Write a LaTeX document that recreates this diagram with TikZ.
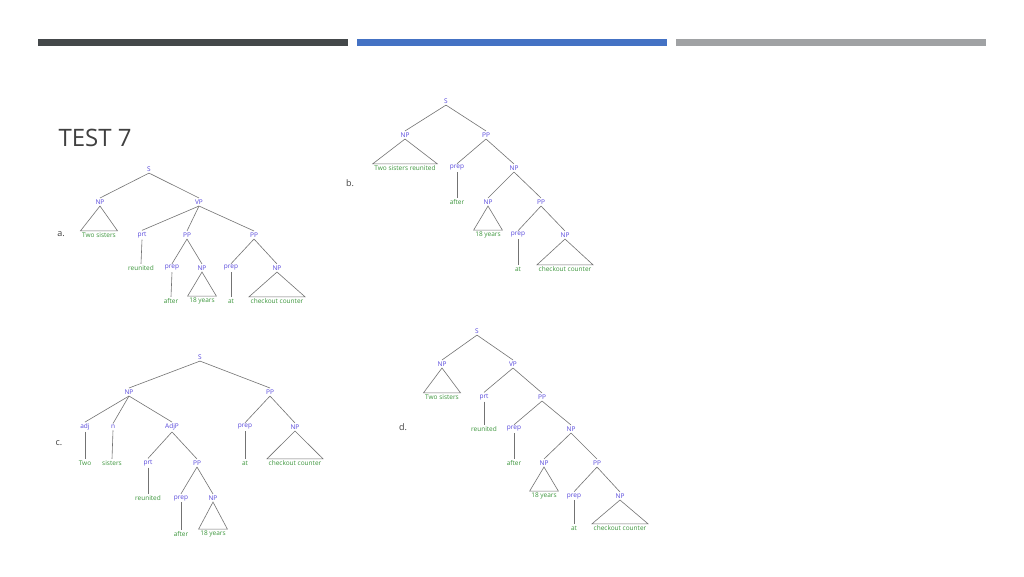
\documentclass[tikz,border=0pt]{standalone}
\usepackage{fontspec}
\setmainfont{Open Sans}
\definecolor{catblue}{RGB}{85,70,220}
\definecolor{wordgreen}{RGB}{60,150,60}
\definecolor{bardark}{RGB}{68,72,74}
\definecolor{barblue}{RGB}{68,114,196}
\definecolor{barlight}{RGB}{160,162,164}
\begin{document}
\begin{tikzpicture}[x=1pt,y=-1pt,
cat/.style={text=catblue, font=\fontsize{6.5}{7}\selectfont, inner sep=1.5pt},
word/.style={text=wordgreen, font=\fontsize{6.5}{7}\selectfont, inner sep=1.5pt},
tag/.style={text=black!75, font=\fontsize{9}{10}\selectfont},
edge/.style={draw=black!55, line width=0.6pt}]

\useasboundingbox[fill=white] (0,0) rectangle (1024,576);

%% header bars and title
\fill[bardark] (38,39) rectangle (348,46);
\fill[barblue] (357,39) rectangle (667,46);
\fill[barlight] (676,39) rectangle (986,46);
\node[anchor=west, text=black!75, font=\fontsize{24}{28}\selectfont] (title) at (55,138) {TEST 7};

%% tree a
\node[tag] (a) at (61,234) {a.};
\node[cat] (aS) at (149,169) {S};
\node[cat] (aNP) at (100,202) {NP};
\node[cat] (aVP) at (199,202) {VP};
\node[word] (aW1) at (99,235) {Two sisters};
\node[cat] (aPrt) at (142,235) {prt};
\node[cat] (aPP1) at (187,235) {PP};
\node[cat] (aPP2) at (254,235) {PP};
\node[word] (aW2) at (141,268) {reunited};
\node[cat] (aPrep1) at (172,268) {prep};
\node[cat] (aNP1) at (202,268) {NP};
\node[cat] (aPrep2) at (231,268) {prep};
\node[cat] (aNP2) at (277,268) {NP};
\node[word] (aW3) at (171,301) {after};
\node[word] (aW4) at (202,301) {18 years};
\node[word] (aW5) at (231,301) {at};
\node[word] (aW6) at (277,301) {checkout counter};

%% tree b
\node[tag] (b) at (350,183) {b.};
\node[cat] (bS) at (446,101) {S};
\node[cat] (bNP) at (405,135) {NP};
\node[cat] (bPP) at (486,135) {PP};
\node[word] (bW1) at (405,168) {Two sisters reunited};
\node[cat] (bPrep1) at (457,168) {prep};
\node[cat] (bNP1) at (514,168) {NP};
\node[word] (bW2) at (457,202) {after};
\node[cat] (bNP2) at (488,202) {NP};
\node[cat] (bPP2) at (541,202) {PP};
\node[word] (bW3) at (488,235) {18 years};
\node[cat] (bPrep2) at (518,235) {prep};
\node[cat] (bNP3) at (565,235) {NP};
\node[word] (bW4) at (518,269) {at};
\node[word] (bW5) at (565,269) {checkout counter};

%% tree c
\node[tag] (c) at (59,443) {c.};
\node[cat] (cS) at (200,357) {S};
\node[cat] (cNP) at (129,392) {NP};
\node[cat] (cPP) at (270,392) {PP};
\node[cat] (cAdj) at (85,427) {adj};
\node[cat] (cN) at (113,427) {n};
\node[cat] (cAdjP) at (172,427) {AdjP};
\node[cat] (cPrep1) at (245,427) {prep};
\node[cat] (cNP1) at (295,427) {NP};
\node[word] (cW1) at (85,463) {Two};
\node[word] (cW2) at (112,463) {sisters};
\node[cat] (cPrt) at (148,463) {prt};
\node[cat] (cPP1) at (197,463) {PP};
\node[word] (cW3) at (245,463) {at};
\node[word] (cW4) at (295,463) {checkout counter};
\node[word] (cW5) at (148,498) {reunited};
\node[cat] (cPrep2) at (181,498) {prep};
\node[cat] (cNP2) at (213,498) {NP};
\node[word] (cW6) at (181,534) {after};
\node[word] (cW7) at (213,534) {18 years};

%% tree d
\node[tag] (d) at (403,427) {d.};
\node[cat] (dS) at (477,331) {S};
\node[cat] (dNP) at (442,364) {NP};
\node[cat] (dVP) at (513,364) {VP};
\node[word] (dW1) at (442,397) {Two sisters};
\node[cat] (dPrt) at (484,397) {prt};
\node[cat] (dPP) at (542,397) {PP};
\node[word] (dW2) at (484,429) {reunited};
\node[cat] (dPrep1) at (514,429) {prep};
\node[cat] (dNP1) at (571,429) {NP};
\node[word] (dW3) at (514,463) {after};
\node[cat] (dNP2) at (544,463) {NP};
\node[cat] (dPP2) at (597,463) {PP};
\node[word] (dW4) at (544,496) {18 years};
\node[cat] (dPrep2) at (574,496) {prep};
\node[cat] (dNP3) at (620,496) {NP};
\node[word] (dW5) at (574,528) {at};
\node[word] (dW6) at (620,528) {checkout counter};

%% branches
\foreach \p/\c in {aS/aNP, aS/aVP, aVP/aPrt, aVP/aPP1, aVP/aPP2, aPrt/aW2,
      aPP1/aPrep1, aPP1/aNP1, aPP2/aPrep2, aPP2/aNP2, aPrep1/aW3, aPrep2/aW5,
      bS/bNP, bS/bPP, bPP/bPrep1, bPP/bNP1, bPrep1/bW2, bNP1/bNP2, bNP1/bPP2,
      bPP2/bPrep2, bPP2/bNP3, bPrep2/bW4,
      cS/cNP, cS/cPP, cNP/cAdj, cNP/cN, cNP/cAdjP, cPP/cPrep1, cPP/cNP1,
      cAdj/cW1, cN/cW2, cAdjP/cPrt, cAdjP/cPP1, cPrep1/cW3, cPrt/cW5,
      cPP1/cPrep2, cPP1/cNP2, cPrep2/cW6,
      dS/dNP, dS/dVP, dVP/dPrt, dVP/dPP, dPrt/dW2, dPP/dPrep1, dPP/dNP1,
      dPrep1/dW3, dNP1/dNP2, dNP1/dPP2, dPP2/dPrep2, dPP2/dNP3, dPrep2/dW5}
      \draw[edge] (\p.south) -- (\c.north);

%% triangles
\foreach \p/\c in {aNP/aW1, aNP1/aW4, aNP2/aW6, bNP/bW1, bNP2/bW3, bNP3/bW5,
      cNP1/cW4, cNP2/cW7, dNP/dW1, dNP2/dW4, dNP3/dW6}
      \draw[edge] (\p.south) -- (\c.north west) -- (\c.north east) -- cycle;

\end{tikzpicture}
\end{document}
